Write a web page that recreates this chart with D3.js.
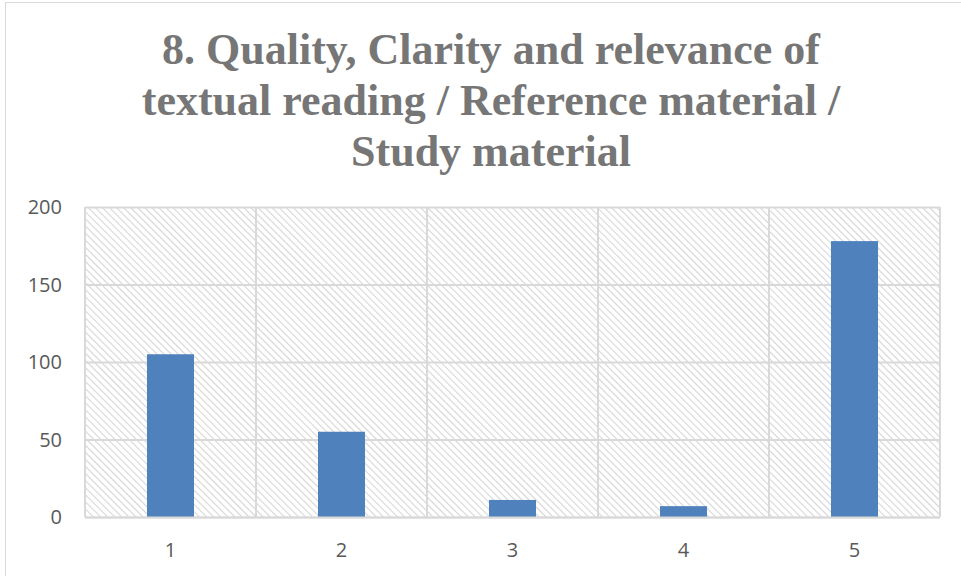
<!DOCTYPE html>
<html>
<head>
<meta charset="utf-8">
<script src="https://cdn.jsdelivr.net/npm/d3@7"></script>
<style>
  body { margin: 0; background: #fff; }
  svg { display: block; }
</style>
</head>
<body>
<div id="chart"></div>
<script>
// chart values
const categories = ["1", "2", "3", "4", "5"];
const counts = [105, 55, 11, 7, 178];
const yTicks = [0, 50, 100, 150, 200];
const titleLines = [
  "8. Quality, Clarity and relevance of",
  "textual reading / Reference material /",
  "Study material"
];

const width = 961, height = 576;
const margin = { top: 207, right: 21, bottom: 59, left: 85 };

const svg = d3.select("#chart").append("svg")
  .attr("width", width)
  .attr("height", height);

// hatched plot background
const defs = svg.append("defs");
const pat = defs.append("pattern")
  .attr("id", "hatch")
  .attr("patternUnits", "userSpaceOnUse")
  .attr("width", 5)
  .attr("height", 5)
  .attr("patternTransform", "rotate(-45)");
pat.append("rect").attr("width", 5).attr("height", 5).attr("fill", "#fff");
pat.append("line")
  .attr("x1", 0).attr("y1", 0).attr("x2", 0).attr("y2", 5)
  .attr("stroke", "#d6d6d6").attr("stroke-width", 2.2);

// outer chart border
svg.append("rect")
  .attr("x", 5.5).attr("y", 2.5)
  .attr("width", width + 10).attr("height", height + 10)
  .attr("fill", "none").attr("stroke", "#d9d9d9");

const x = d3.scaleBand()
  .domain(categories)
  .range([margin.left, width - margin.right])
  .paddingInner(0)
  .paddingOuter(0);

const y = d3.scaleLinear()
  .domain([0, 200])
  .range([height - margin.bottom, margin.top]);

svg.append("rect")
  .attr("x", margin.left)
  .attr("y", margin.top)
  .attr("width", width - margin.right - margin.left)
  .attr("height", height - margin.bottom - margin.top)
  .attr("fill", "url(#hatch)");

// gridlines
svg.append("g").attr("id", "h-grid")
  .selectAll("line")
  .data(yTicks)
  .enter()
  .append("line")
  .attr("x1", margin.left)
  .attr("x2", width - margin.right)
  .attr("y1", d => y(d) + 0.5)
  .attr("y2", d => y(d) + 0.5)
  .attr("stroke", "#d9d9d9")
  .attr("stroke-width", 2);

const vLines = categories.map(c => x(c)).concat([x.range()[1]]);
svg.append("g").attr("id", "v-grid")
  .selectAll("line")
  .data(vLines)
  .enter()
  .append("line")
  .attr("x1", d => d)
  .attr("x2", d => d)
  .attr("y1", margin.top)
  .attr("y2", y(0))
  .attr("stroke", "#d9d9d9")
  .attr("stroke-width", 2);

// bars
const barW = x.bandwidth() * 0.275;
svg.append("g").attr("id", "bars")
  .selectAll("rect")
  .data(categories)
  .enter()
  .append("rect")
  .attr("x", (d, i) => x(d) + (x.bandwidth() - barW) / 2)
  .attr("y", (d, i) => y(counts[i]))
  .attr("width", barW)
  .attr("height", (d, i) => y(0) - y(counts[i]))
  .attr("fill", "#4f81bd");

// baseline
svg.append("line")
  .attr("x1", margin.left)
  .attr("x2", width - margin.right)
  .attr("y1", y(0) + 0.5)
  .attr("y2", y(0) + 0.5)
  .attr("stroke", "#d9d9d9")
  .attr("stroke-width", 2);

// axis labels
svg.append("g").attr("id", "y-labels")
  .selectAll("text")
  .data(yTicks)
  .enter()
  .append("text")
  .attr("x", 62)
  .attr("y", d => y(d))
  .attr("dy", "0.35em")
  .attr("text-anchor", "end")
  .attr("font-family", "'Open Sans', sans-serif")
  .attr("font-size", 20)
  .attr("fill", "#595959")
  .text(d => d);

svg.append("g").attr("id", "x-labels")
  .selectAll("text")
  .data(categories)
  .enter()
  .append("text")
  .attr("x", d => x(d) + x.bandwidth() / 2)
  .attr("y", 550)
  .attr("dy", "0.35em")
  .attr("text-anchor", "middle")
  .attr("font-family", "'Open Sans', sans-serif")
  .attr("font-size", 20)
  .attr("fill", "#595959")
  .text(d => d);

// title
svg.append("g").attr("id", "title")
  .selectAll("text")
  .data(titleLines)
  .enter()
  .append("text")
  .attr("x", 491)
  .attr("y", (d, i) => 64 + i * 51)
  .attr("text-anchor", "middle")
  .attr("font-family", "'Liberation Serif', serif")
  .attr("font-weight", "bold")
  .attr("font-size", 44)
  .attr("fill", "#767676")
  .text(d => d);
</script>
</body>
</html>
